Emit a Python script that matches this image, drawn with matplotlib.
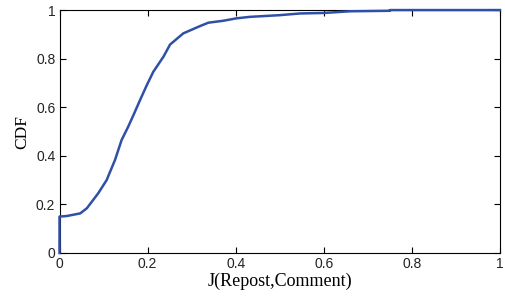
import matplotlib
matplotlib.use('Agg')
import matplotlib.pyplot as plt

# CDF
jaccard = [0.0, 0.0, 0.016, 0.047, 0.062, 0.088, 0.107, 0.126, 0.141, 0.156,
           0.168, 0.183, 0.198, 0.213, 0.236, 0.251, 0.281, 0.319, 0.338,
           0.372, 0.402, 0.432, 0.5, 0.546, 0.599, 0.66, 0.75, 0.75, 1.0]
cdf = [0.0, 0.15, 0.152, 0.163, 0.184, 0.246, 0.30, 0.383, 0.465, 0.52,
       0.568, 0.63, 0.69, 0.746, 0.808, 0.858, 0.904, 0.934, 0.948,
       0.956, 0.966, 0.972, 0.979, 0.986, 0.988, 0.995, 0.997, 1.0, 1.0]
ticks = [0, 0.2, 0.4, 0.6, 0.8, 1]
tick_labels = ['0', '0.2', '0.4', '0.6', '0.8', '1']

fig = plt.figure(figsize=(5.06, 2.96), dpi=100)
ax = fig.add_axes([0.1176, 0.1453, 0.8704, 0.8207])

ax.plot(jaccard, cdf, color='#3050a8', linewidth=1.8, zorder=3, clip_on=False)

ax.set_xlim(0, 1)
ax.set_ylim(0, 1)
ax.set_xticks(ticks)
ax.set_xticklabels(tick_labels)
ax.set_yticks(ticks)
ax.set_yticklabels(tick_labels)
ax.tick_params(direction='in', length=4, width=0.8, top=True, right=True,
               labelsize=10, pad=3)
for lab in ax.get_xticklabels() + ax.get_yticklabels():
    lab.set_family('Liberation Sans')
    lab.set_color('#222222')
for s in ax.spines.values():
    s.set_linewidth(0.8)

ax.set_xlabel('J(Repost,Comment)', family='Liberation Serif', fontsize=13, labelpad=1)
ax.set_ylabel('CDF', family='Liberation Serif', fontsize=12.5, labelpad=4)

fig.savefig('out.png', dpi=100)
